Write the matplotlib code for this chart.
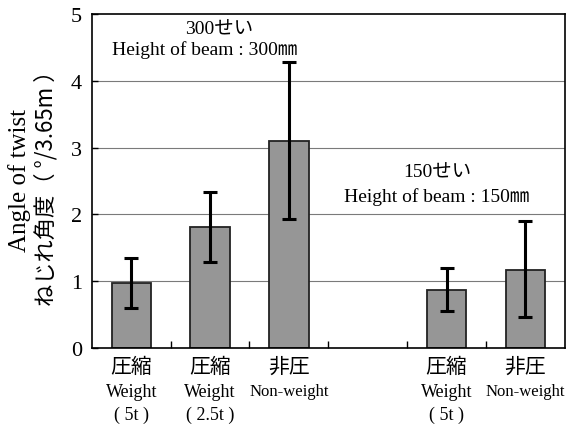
import matplotlib
matplotlib.use("Agg")
import matplotlib.pyplot as plt
import matplotlib.transforms as mtransforms
import numpy as np

# slots: 3 bars for 300 beam, empty gap, 2 bars for 150 beam
jp_labels = ["圧縮", "圧縮", "非圧", "", "圧縮", "非圧"]
en_labels = ["Weight", "Weight", "Non-weight", "", "Weight", "Non-weight"]
load_labels = ["( 5t )", "( 2.5t )", "", "", "( 5t )", ""]
means = [0.97, 1.81, 3.10, np.nan, 0.87, 1.17]
err_low = [0.60, 1.29, 1.93, np.nan, 0.55, 0.46]
err_high = [1.34, 2.33, 4.28, np.nan, 1.20, 1.90]
y_ticks = [0, 1, 2, 3, 4, 5]

SERIF = ["Liberation Serif", "Noto Sans CJK JP"]
CJK = ["Noto Sans CJK JP", "Liberation Serif"]

fig = plt.figure(figsize=(5.67, 4.27), dpi=100)
ax = fig.add_axes([0.162, 0.183, 0.834, 0.782])

x = np.arange(len(means))
m = np.array(means)
lo = m - np.array(err_low)
hi = np.array(err_high) - m
ax.bar(x, m, width=0.5, color="#969696", edgecolor="#222222", linewidth=1.3, zorder=2)
ax.errorbar(x, m, yerr=[lo, hi], fmt="none", ecolor="black", elinewidth=2.2,
            capsize=5, capthick=2.2, zorder=3)

ax.set_xlim(-0.5, len(means) - 0.5)
ax.set_ylim(0, 5)
ax.set_yticks(y_ticks)
ax.set_yticklabels([str(t) for t in y_ticks], fontfamily=SERIF, fontsize=16)
for t in [1, 2, 3, 4]:
    ax.axhline(t, color="#7a7a7a", linewidth=0.8, zorder=1)

ax.set_xticks([])
ax.set_xticks(np.arange(0.5, len(means) - 0.5, 1.0), minor=True)
ax.tick_params(axis="x", which="minor", direction="in", length=5, width=1)
ax.tick_params(axis="y", direction="in", length=4, width=1, pad=7)
for sp in ax.spines.values():
    sp.set_linewidth(1.2)

# category labels below the axis
trans = mtransforms.blended_transform_factory(ax.transData, ax.transAxes)
for i in range(len(means)):
    ax.text(x[i], -0.055, jp_labels[i], transform=trans, ha="center", va="center",
            fontfamily=CJK, fontsize=15)
    ax.text(x[i], -0.13, en_labels[i], transform=trans, ha="center", va="center",
            fontfamily=SERIF, fontsize=13 if en_labels[i] == "Weight" else 12)
    ax.text(x[i], -0.198, load_labels[i], transform=trans, ha="center", va="center",
            fontfamily=SERIF, fontsize=13)

# group annotations
ax.text(1.12, 4.78, "300せい", ha="center", va="center", fontfamily=SERIF, fontsize=14)
ax.text(0.93, 4.48, "Height of beam : 300㎜", ha="center", va="center",
        fontfamily=SERIF, fontsize=14)
ax.text(3.88, 2.63, "150せい", ha="center", va="center", fontfamily=SERIF, fontsize=14)
ax.text(3.88, 2.28, "Height of beam : 150㎜", ha="center", va="center",
        fontfamily=SERIF, fontsize=14)

# two-line y label
fig.text(0.034, 0.578, "Angle of twist", rotation=90, ha="center", va="center",
         fontfamily=SERIF, fontsize=18)
fig.text(0.080, 0.571, "ねじれ角度（ °/3.65m ）", rotation=90, ha="center", va="center",
         fontfamily=CJK, fontsize=16)

fig.savefig("out.png", dpi=100)
